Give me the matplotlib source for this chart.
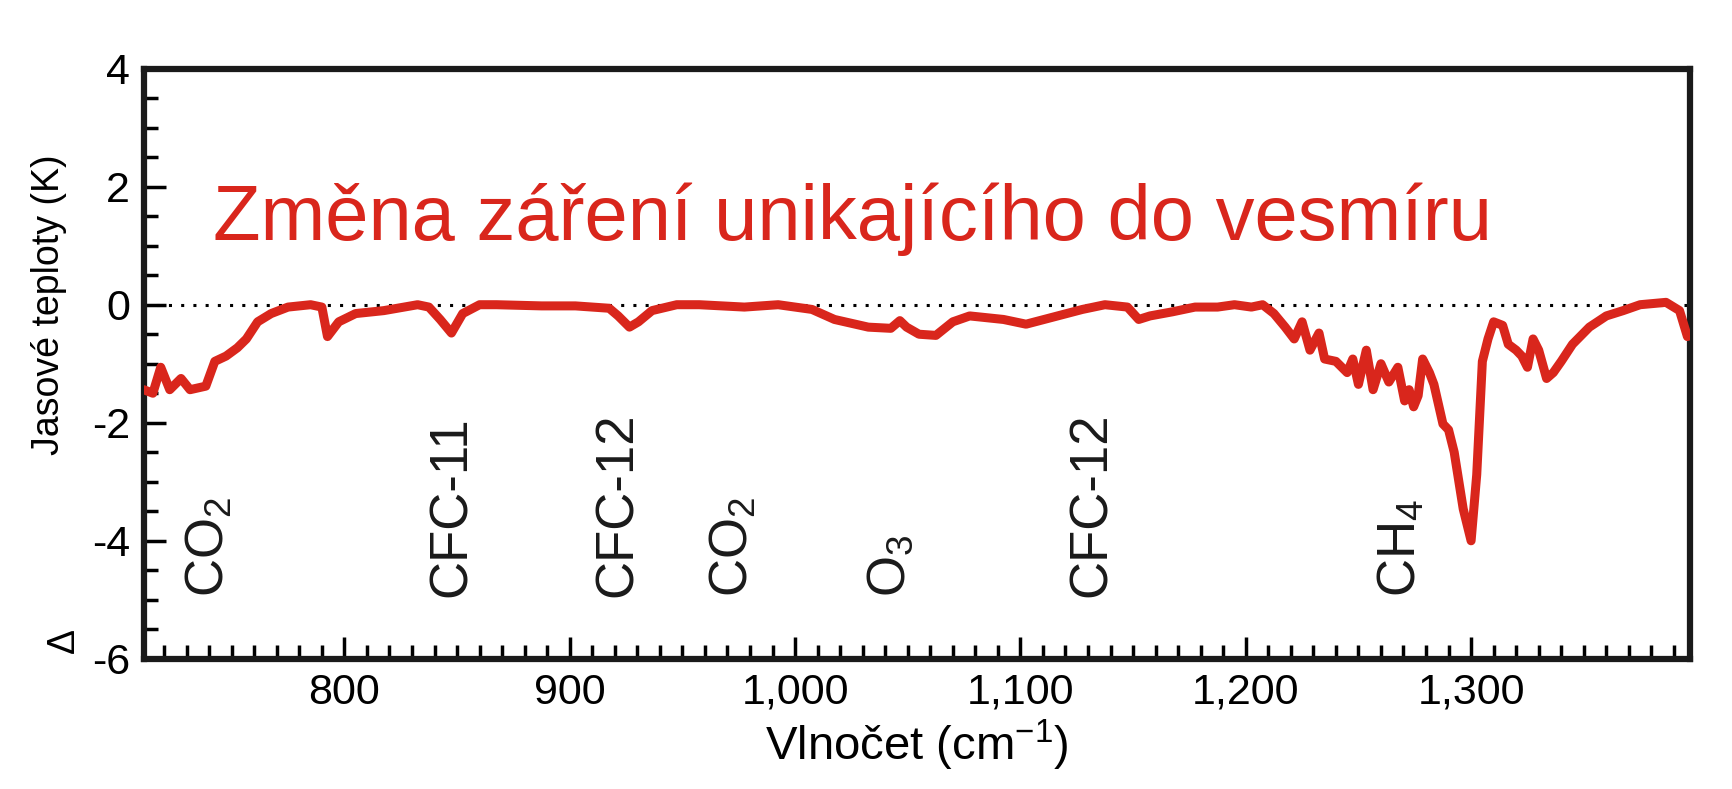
import numpy as np
import matplotlib.pyplot as plt
from matplotlib.ticker import MultipleLocator, FuncFormatter

plt.rcParams['font.family'] = ['Liberation Sans', 'DejaVu Sans']
plt.rcParams['mathtext.default'] = 'regular'

# wavenumber (cm-1) and brightness temperature change (K), in pieces
wn_a = [711, 715, 718.5, 722.5, 727.5, 731.5, 738.5, 742.5, 747.5, 752.5, 756.5, 761.5,
        767.5, 775, 785, 790, 792.5, 797.5]
tb_a = [-1.44, -1.5, -1.06, -1.44, -1.25, -1.44, -1.38, -0.96, -0.87, -0.73, -0.58, -0.29,
        -0.15, -0.04, 0.0, -0.04, -0.54, -0.29]
wn_b = [805, 817.5, 832.5, 837.5, 842.5, 847.5, 852.5, 860, 867.5, 887.5, 902.5, 917.5,
        921.5, 926.5, 930.5, 936.5, 947.5, 957.5, 977.5, 992.5]
tb_b = [-0.15, -0.1, 0.0, -0.04, -0.25, -0.48, -0.15, 0.0, 0.0, -0.02, -0.02, -0.06,
        -0.19, -0.38, -0.29, -0.1, 0.0, 0.0, -0.04, 0.0]
wn_c = [1007.5, 1017.5, 1032.5, 1042.5, 1046.5, 1049.5, 1055, 1062.5, 1070, 1077.5,
        1092.5, 1102.5, 1112.5, 1127.5, 1137.5, 1147.5, 1152.5, 1157.5, 1167.5, 1177.5,
        1187.5, 1195, 1202.5, 1207.5]
tb_c = [-0.08, -0.25, -0.38, -0.4, -0.27, -0.38, -0.5, -0.52, -0.29, -0.19,
        -0.25, -0.33, -0.23, -0.08, 0.0, -0.04, -0.25, -0.19, -0.12, -0.04,
        -0.04, 0.0, -0.04, 0.0]
wn_d = [1212.5, 1217.5, 1221.5, 1225, 1228.5, 1232.5, 1235, 1240, 1245, 1247.5, 1250,
        1253.5, 1256.5, 1260, 1263.5, 1267.5, 1270.5, 1272.5, 1274.5, 1276.5, 1278.5,
        1281.5, 1283.5, 1287.5, 1290, 1292.5, 1296.5, 1300, 1302.5, 1305, 1307.5, 1310,
        1314, 1316.5, 1320, 1322.5, 1325, 1327.5, 1330, 1333.5, 1336.5, 1340, 1345,
        1352.5, 1360, 1367.5, 1375, 1386.5, 1392.5, 1396]
tb_d = [-0.15, -0.38, -0.58, -0.29, -0.77, -0.48, -0.92, -0.96, -1.15, -0.92, -1.35,
        -0.77, -1.44, -1.0, -1.31, -1.06, -1.63, -1.44, -1.73, -1.54, -0.92,
        -1.15, -1.35, -2.02, -2.12, -2.5, -3.46, -4.0, -2.88, -0.96, -0.58, -0.29,
        -0.35, -0.67, -0.77, -0.87, -1.06, -0.58, -0.77, -1.25, -1.15, -0.96, -0.67,
        -0.38, -0.19, -0.1, 0.0, 0.04, -0.1, -0.54]

wavenumber = wn_a + wn_b + wn_c + wn_d
delta_tb = tb_a + tb_b + tb_c + tb_d

labels = ['CO$_2$', 'CFC-11', 'CFC-12', 'CO$_2$', 'O$_3$', 'CFC-12', 'CH$_4$']
label_x = [740, 847.5, 921.5, 972.5, 1042.5, 1131.5, 1269]

red = '#d9261c'
fig = plt.figure(figsize=(17.33, 7.89), dpi=100)
ax = fig.add_axes([0.083, 0.165, 0.892, 0.748])

ax.axhline(0, color='black', linestyle=(0, (1, 3)), linewidth=2.2, zorder=1)
ax.plot(wavenumber, delta_tb, color=red, linewidth=6.5, solid_joinstyle='round',
        solid_capstyle='round', zorder=3)

for lab, xx in zip(labels, label_x):
    ax.text(xx, -4.95, lab, rotation=90, ha='center', va='bottom', fontsize=38, color='#1a1a1a')

ax.text(0.045, 0.745, 'Změna záření unikajícího do vesmíru', transform=ax.transAxes,
        fontsize=56, color=red, va='center')

ax.set_xlim(711, 1397)
ax.set_ylim(-6, 4)
ax.xaxis.set_major_locator(MultipleLocator(100))
ax.xaxis.set_minor_locator(MultipleLocator(10))
ax.yaxis.set_major_locator(MultipleLocator(2))
ax.yaxis.set_minor_locator(MultipleLocator(0.5))
ax.xaxis.set_major_formatter(FuncFormatter(lambda v, p: f'{int(v):,}'))
ax.yaxis.set_major_formatter(FuncFormatter(lambda v, p: f'{int(v)}'))
ax.tick_params(which='both', direction='in', width=2.5, labelsize=31, color='black')
ax.tick_params(which='major', length=16, pad=10)
ax.tick_params(which='minor', length=10)
for s in ax.spines.values():
    s.set_linewidth(4.5)
    s.set_color('#1a1a1a')

ax.set_xlabel('Vlnočet (cm$^{-1}$)', fontsize=34, labelpad=4)
ax.set_ylabel('Jasové teploty (K)', fontsize=27, labelpad=18, y=0.6)
ax.text(-0.052, 0.01, 'Δ', transform=ax.transAxes, rotation=90, fontsize=27,
        ha='center', va='bottom')

fig.savefig('out.png', dpi=100)
